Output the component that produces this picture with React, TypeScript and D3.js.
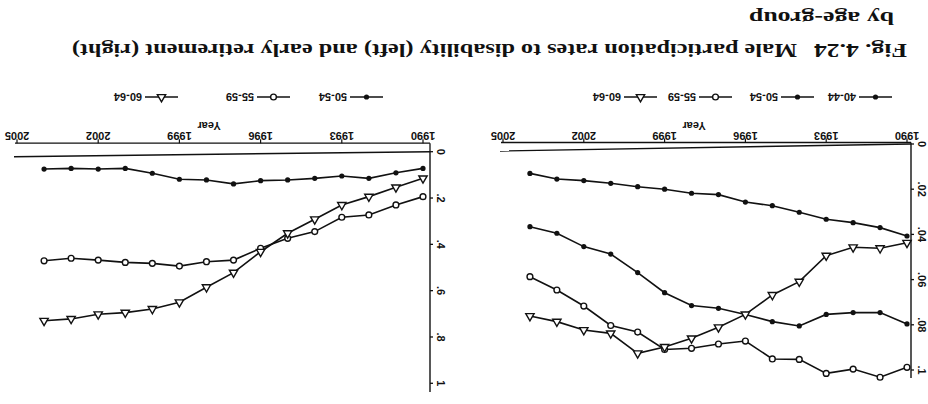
import React from "react";
import * as d3 from "d3";

const years = [1990, 1991, 1992, 1993, 1994, 1995, 1996, 1997, 1998, 1999, 2000, 2001, 2002, 2003, 2004];
const xTicks = [1990, 1993, 1996, 1999, 2002, 2005];

// Disability (left panel)
const disab40_44 = [0.0407, 0.037, 0.0348, 0.0333, 0.0302, 0.0273, 0.0257, 0.0224, 0.0218, 0.02, 0.0189, 0.0174, 0.0162, 0.0155, 0.013];
const disab50_54 = [0.0796, 0.0746, 0.0746, 0.0754, 0.0805, 0.0786, 0.0754, 0.0727, 0.0715, 0.0658, 0.0569, 0.0487, 0.0454, 0.0395, 0.0366];
const disab55_59 = [0.0988, 0.1032, 0.0996, 0.1015, 0.0953, 0.0951, 0.0872, 0.0885, 0.0904, 0.0909, 0.0832, 0.0803, 0.0717, 0.0646, 0.0587];
const disab60_64 = [0.0437, 0.0461, 0.0457, 0.0494, 0.0609, 0.0668, 0.0754, 0.0811, 0.086, 0.0898, 0.0926, 0.0838, 0.0823, 0.0786, 0.0761];
const disabTicks = [0, 0.02, 0.04, 0.06, 0.08, 0.1];
const disabTickLabels = ["0", ".02", ".04", ".06", ".08", ".1"];

// Early retirement (right panel)
const early50_54 = [0.072, 0.091, 0.115, 0.105, 0.115, 0.122, 0.125, 0.139, 0.122, 0.119, 0.093, 0.072, 0.075, 0.072, 0.075];
const early55_59 = [0.194, 0.23, 0.273, 0.283, 0.345, 0.374, 0.417, 0.468, 0.475, 0.494, 0.482, 0.478, 0.468, 0.46, 0.471];
const early60_64 = [0.115, 0.154, 0.194, 0.23, 0.292, 0.352, 0.432, 0.522, 0.585, 0.65, 0.679, 0.695, 0.702, 0.722, 0.73];
const earlyTicks = [0, 0.2, 0.4, 0.6, 0.8, 1];
const earlyTickLabels = ["0", ".2", ".4", ".6", ".8", "1"];

const titleFig = "Fig. 4.24";
const titleMain = "Male participation rates to disability (left) and early retirement (right)";
const titleSub = "by age-group";

type Marker = "dot" | "circle" | "triangle";

const INK = "#111";

function MarkerShape({ kind, x, y }: { kind: Marker; x: number; y: number }) {
  if (kind === "dot") return <circle cx={x} cy={y} r={2.6} fill={INK} />;
  if (kind === "circle")
    return <circle cx={x} cy={y} r={2.9} fill="#fff" stroke={INK} strokeWidth={1.4} />;
  const p = d3.symbol().type(d3.symbolTriangle).size(30)();
  return <path d={p as string} transform={`translate(${x},${y})`} fill="#fff" stroke={INK} strokeWidth={1.4} />;
}

interface SeriesDef {
  label: string;
  values: number[];
  marker: Marker;
}

interface PanelProps {
  x0: number;
  x1: number;
  y0: number;
  y1: number;
  yMax: number;
  yAxisTop: number;
  axisGap: number;
  zeroSlant: number;
  yTicks: number[];
  yTickLabels: string[];
  series: SeriesDef[];
  legendX: number[];
}

function Panel(props: PanelProps) {
  const { x0, x1, y0, y1, yMax, yAxisTop, axisGap, zeroSlant, yTicks, yTickLabels, series, legendX } = props;
  const x = d3.scaleLinear().domain([1990, 2005]).range([x0, x1]);
  const y = d3.scaleLinear().domain([0, yMax]).range([y0, y1]);
  const axX = x(1990) - (props.axisOffset ?? 5);
  const axisY = y(0) + axisGap;
  const line = d3
    .line<number>()
    .x((_, i) => x(years[i]))
    .y((d) => y(d));
  const legendY = 307;
  return (
    <g>
      {/* y axis */}
      <line x1={axX} y1={y(0)} x2={axX} y2={yAxisTop} stroke={INK} strokeWidth={1.4} />
      {yTicks.map((t, i) => (
        <g key={t}>
          <line x1={axX} x2={axX - 3} y1={y(t)} y2={y(t)} stroke={INK} strokeWidth={1.3} />
          <text
            transform={`translate(${axX - 7},${y(t)}) rotate(-90)`}
            textAnchor="middle"
            fontFamily="Liberation Sans, Arial, sans-serif"
            fontWeight="bold"
            fontSize={11}
            fill={INK}
          >
            {yTickLabels[i]}
          </text>
        </g>
      ))}
      {/* zero line (slightly slanted in the scan) */}
      <line x1={axX} y1={y(0)} x2={x(2005) + 3} y2={y(0) - zeroSlant} stroke={INK} strokeWidth={1.4} />
      {/* x axis */}
      <line x1={axX} y1={axisY} x2={x(2005) + 2} y2={axisY} stroke={INK} strokeWidth={1.3} />
      <line x1={axX} y1={y(0)} x2={axX} y2={axisY} stroke={INK} strokeWidth={1.3} />
      {xTicks.map((t) => (
        <g key={t}>
          <line x1={x(t)} x2={x(t)} y1={axisY} y2={axisY + 4} stroke={INK} strokeWidth={1.2} />
          <text
            x={x(t)}
            y={axisY + 11}
            textAnchor="middle"
            fontFamily="Liberation Sans, Arial, sans-serif"
            fontWeight="bold"
            fontSize={11}
            fill={INK}
          >
            {t}
          </text>
        </g>
      ))}
      <text
        x={(x0 + x1) / 2 + 11}
        y={axisY + 21}
        textAnchor="middle"
        fontFamily="Liberation Sans, Arial, sans-serif"
        fontWeight="bold"
        fontSize={11}
        fill={INK}
      >
        Year
      </text>
      {/* series */}
      {series.map((s) => (
        <g key={s.label}>
          <path d={line(s.values) as string} fill="none" stroke={INK} strokeWidth={1.6} />
          {s.values.map((v, i) => (
            <MarkerShape key={i} kind={s.marker} x={x(years[i])} y={y(v)} />
          ))}
        </g>
      ))}
      {/* legend */}
      {series.map((s, i) => (
        <g key={"lg" + s.label}>
          <line x1={legendX[i]} x2={legendX[i] + 33} y1={legendY} y2={legendY} stroke={INK} strokeWidth={1.5} />
          <MarkerShape kind={s.marker} x={legendX[i] + 16.5} y={legendY} />
          <text
            x={legendX[i] + 36}
            y={legendY + 4}
            fontFamily="Liberation Sans, Arial, sans-serif"
            fontWeight="bold"
            fontSize={11}
            fill={INK}
          >
            {s.label}
          </text>
        </g>
      ))}
    </g>
  );
}

export default function App() {
  const leftSeries: SeriesDef[] = [
    { label: "40-44", values: disab40_44, marker: "dot" },
    { label: "50-54", values: disab50_54, marker: "dot" },
    { label: "55-59", values: disab55_59, marker: "circle" },
    { label: "60-64", values: disab60_64, marker: "triangle" },
  ];
  const rightSeries: SeriesDef[] = [
    { label: "50-54", values: early50_54, marker: "dot" },
    { label: "55-59", values: early55_59, marker: "circle" },
    { label: "60-64", values: early60_64, marker: "triangle" },
  ];
  return (
    <svg
      width={928}
      height={404}
      style={{ position: "absolute", left: 0, top: 0, background: "#fff" }}
    >
      <rect width={928} height={404} fill="#fff" />
      <g transform="rotate(180 464 202)">
        <Panel
          x0={21}
          x1={425}
          y0={260}
          y1={34}
          yMax={0.1}
          yAxisTop={26}
          axisGap={1.5}
          zeroSlant={7}
          yTicks={disabTicks}
          yTickLabels={disabTickLabels}
          series={leftSeries}
          legendX={[36, 114, 196, 271]}
          axisOffset={4}
        />
        <Panel
          x0={505}
          x1={911}
          y0={252.3}
          y1={20.7}
          yMax={1}
          yAxisTop={12}
          axisGap={8.5}
          zeroSlant={5}
          yTicks={earlyTicks}
          yTickLabels={earlyTickLabels}
          series={rightSeries}
          legendX={[545, 638, 750]}
          axisOffset={7}
        />
        <text
          x={21}
          y={360}
          fontFamily="Liberation Serif, Times New Roman, serif"
          fontWeight="bold"
          fontSize={19}
          textLength={93}
          lengthAdjust="spacingAndGlyphs"
          fill={INK}
        >
          {titleFig}
        </text>
        <text
          x={131}
          y={360}
          fontFamily="Liberation Serif, Times New Roman, serif"
          fontWeight="bold"
          fontSize={19}
          textLength={725}
          lengthAdjust="spacingAndGlyphs"
          fill={INK}
        >
          {titleMain}
        </text>
        <text
          x={34}
          y={392}
          fontFamily="Liberation Serif, Times New Roman, serif"
          fontWeight="bold"
          fontSize={19}
          textLength={145}
          lengthAdjust="spacingAndGlyphs"
          fill={INK}
        >
          {titleSub}
        </text>
      </g>
    </svg>
  );
}
